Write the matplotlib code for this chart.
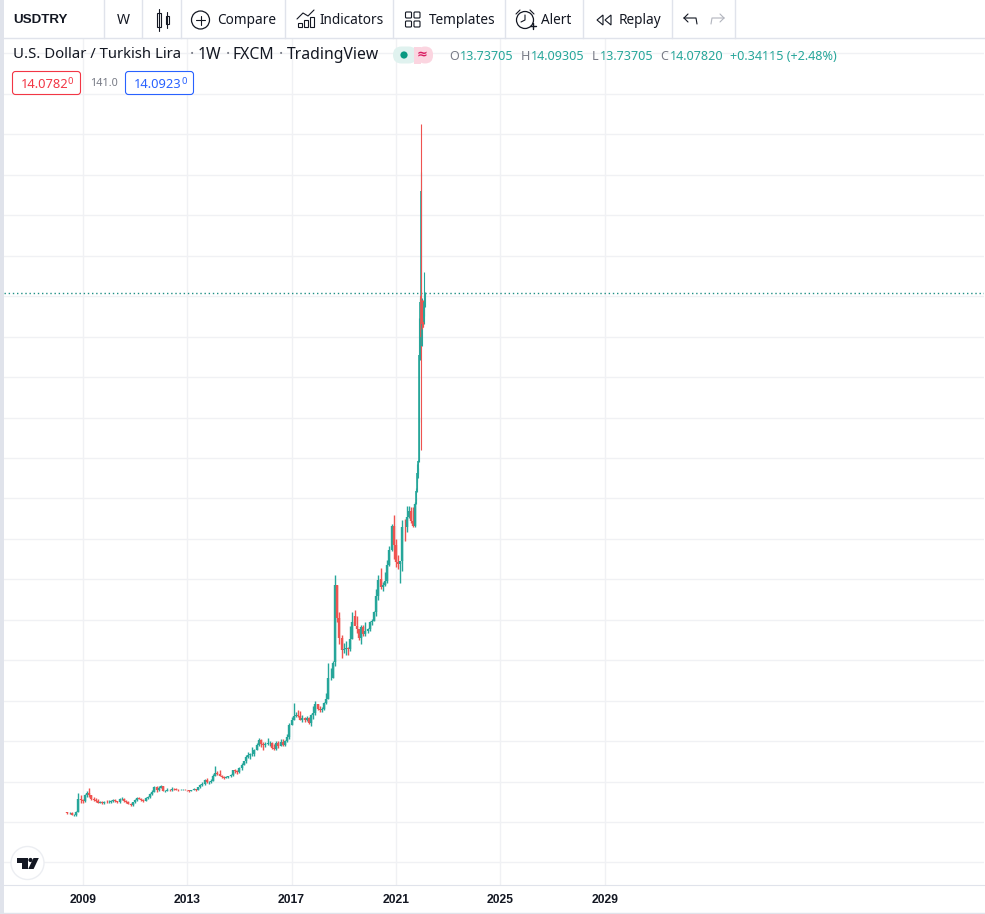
import datetime as dt
import pandas as pd
import matplotlib
matplotlib.use("Agg")
import matplotlib.pyplot as plt
import matplotlib.dates as mdates
from matplotlib.collections import LineCollection
from matplotlib.patches import FancyBboxPatch, Circle, Rectangle, Polygon

plt.rcParams['font.family'] = ['Noto Sans', 'DejaVu Sans']

# monthly bars, May 2008 - Sep 2021
m_open = [1.24,1.22,1.23,1.17,1.17,1.26,1.56,1.55,
 1.52,1.67,1.73,1.66,1.58,1.55,1.53,1.48,1.49,1.48,1.50,1.49,
 1.50,1.51,1.54,1.51,1.49,1.57,1.58,1.51,1.50,1.45,1.42,1.50,
 1.54,1.60,1.58,1.55,1.52,1.60,1.62,1.69,1.75,1.86,1.78,1.85,
 1.89,1.77,1.77,1.80,1.78,1.82,1.81,1.80,1.79,1.80,1.80,1.79,
 1.78,1.77,1.78,1.81,1.80,1.86,1.91,1.93,2.04,2.00,2.00,2.02,
 2.14,2.21,2.20,2.13,2.11,2.09,2.12,2.14,2.17,2.28,2.26,2.24,
 2.33,2.42,2.50,2.60,2.66,2.67,2.68,2.78,2.90,3.03,2.92,2.91,
 2.92,2.96,2.96,2.83,2.81,2.96,2.89,2.99,2.91,3.00,3.10,3.41,
 3.52,3.63,3.65,3.63,3.53,3.57,3.52,3.57,3.45,3.65,3.69,3.92,
 3.79,3.77,3.80,3.95,4.05,4.57,4.57,4.95,6.85,6.05,5.55,5.25,
 5.29,5.31,5.27,5.53,6.10,5.84,5.77,5.55,5.82,5.65,5.72,5.77,
 5.94,5.97,6.20,6.58,7.00,6.82,6.85,6.96,7.35,7.72,8.33,7.85,
 7.44,7.37,7.45,8.30,8.29,8.55,8.70,8.44,8.32]
m_high = [1.26,1.24,1.24,1.20,1.28,1.72,1.68,1.58,
 1.70,1.76,1.83,1.67,1.62,1.60,1.56,1.53,1.52,1.53,1.54,1.54,
 1.54,1.56,1.57,1.52,1.60,1.62,1.59,1.54,1.52,1.47,1.50,1.56,
 1.62,1.62,1.60,1.57,1.62,1.65,1.72,1.80,1.88,1.90,1.88,1.92,
 1.90,1.80,1.83,1.81,1.86,1.84,1.83,1.82,1.82,1.81,1.82,1.80,
 1.79,1.80,1.84,1.81,1.87,1.95,1.98,2.07,2.09,2.02,2.06,2.18,
 2.39,2.25,2.28,2.17,2.13,2.15,2.15,2.19,2.29,2.30,2.28,2.35,
 2.45,2.52,2.65,2.74,2.70,2.85,2.80,2.95,3.07,3.05,2.98,2.99,
 3.07,3.00,2.98,2.92,3.01,3.00,3.06,3.06,3.03,3.17,3.44,3.60,
 3.94,3.73,3.76,3.74,3.64,3.60,3.63,3.60,3.67,3.87,4.00,3.93,
 3.88,3.84,3.97,4.20,4.92,4.80,4.97,7.10,6.85,6.20,5.62,5.43,
 5.47,5.32,5.85,6.20,6.25,6.10,5.78,5.86,5.86,5.95,5.80,5.98,
 6.02,6.21,6.75,7.10,7.27,6.93,7.17,7.47,7.83,8.38,8.58,8.00,
 7.60,7.45,8.47,8.50,8.82,8.82,8.80,8.78,8.90]
m_low = [1.21,1.20,1.17,1.15,1.16,1.25,1.48,1.47,
 1.50,1.62,1.63,1.55,1.52,1.50,1.47,1.46,1.45,1.44,1.46,1.47,
 1.47,1.50,1.50,1.47,1.48,1.55,1.50,1.48,1.45,1.40,1.40,1.47,
 1.53,1.57,1.53,1.49,1.51,1.58,1.60,1.67,1.74,1.74,1.76,1.83,
 1.76,1.74,1.76,1.77,1.77,1.79,1.78,1.77,1.78,1.78,1.78,1.77,
 1.75,1.76,1.78,1.77,1.78,1.84,1.89,1.91,1.97,1.95,1.97,2.01,
 2.13,2.17,2.13,2.08,2.07,2.08,2.08,2.12,2.15,2.21,2.20,2.22,
 2.28,2.41,2.47,2.59,2.57,2.64,2.63,2.77,2.87,2.85,2.78,2.85,
 2.90,2.89,2.81,2.78,2.78,2.84,2.87,2.89,2.88,2.97,3.06,3.40,
 3.52,3.60,3.60,3.52,3.47,3.48,3.49,3.42,3.38,3.55,3.65,3.77,
 3.72,3.73,3.78,3.93,4.04,4.50,4.55,4.85,5.95,5.41,5.06,5.17,
 5.14,5.13,5.22,5.53,5.90,5.67,5.50,5.40,5.60,5.60,5.68,5.72,
 5.87,5.96,6.10,6.50,6.75,6.72,6.84,6.92,7.33,7.70,7.50,7.30,
 7.25,6.92,7.20,7.95,8.17,8.51,8.40,8.30,8.30]
m_close = [1.22,1.23,1.17,1.17,1.26,1.56,1.55,1.52,
 1.67,1.73,1.66,1.58,1.55,1.53,1.48,1.49,1.48,1.50,1.49,1.50,
 1.51,1.54,1.51,1.49,1.57,1.58,1.51,1.50,1.45,1.42,1.50,1.54,
 1.60,1.58,1.55,1.52,1.60,1.62,1.69,1.75,1.86,1.78,1.85,1.89,
 1.77,1.77,1.80,1.78,1.82,1.81,1.80,1.79,1.80,1.80,1.79,1.78,
 1.77,1.78,1.81,1.80,1.86,1.91,1.93,2.04,2.00,2.00,2.02,2.14,
 2.21,2.20,2.13,2.11,2.09,2.12,2.14,2.17,2.28,2.26,2.24,2.33,
 2.42,2.50,2.60,2.66,2.67,2.68,2.78,2.90,3.03,2.92,2.91,2.92,
 2.96,2.96,2.83,2.81,2.96,2.89,2.99,2.91,3.00,3.10,3.41,3.52,
 3.63,3.65,3.63,3.53,3.57,3.52,3.57,3.45,3.65,3.69,3.92,3.79,
 3.77,3.80,3.95,4.05,4.57,4.57,4.92,6.85,6.05,5.55,5.25,5.29,
 5.31,5.27,5.53,5.95,5.84,5.77,5.55,5.82,5.65,5.72,5.77,5.94,
 5.97,6.20,6.58,6.98,6.82,6.85,6.96,7.35,7.72,8.33,7.85,7.44,
 7.37,7.45,8.30,8.29,8.55,8.70,8.44,8.32,8.87]

# weekly bars, Oct 2021 - Feb 2022
w_open = [8.87,8.98,9.19,9.55,9.62,9.68,9.93,10.95,12.55,13.73,13.85,14.00,12.76,13.60,13.70,13.50,13.35,13.45,13.737]
w_high = [9.02,9.25,9.55,9.85,9.75,9.95,11.00,13.45,14.00,13.95,17.06,18.25,13.95,13.90,13.90,13.60,13.75,14.60,14.093]
w_low = [8.85,8.95,9.15,9.40,9.50,9.60,9.90,10.90,12.43,13.10,13.75,10.20,12.76,13.20,13.25,13.25,13.30,13.50,13.737]
w_close = [8.98,9.19,9.55,9.62,9.68,9.93,10.95,12.55,13.73,13.85,16.60,13.00,13.35,13.30,13.55,13.35,13.74,13.85,14.078]

last_close = 14.0782
price_grid = list(range(0, 21))
year_ticks = [2009, 2013, 2017, 2021, 2025, 2029]
GREEN, RED = '#26a69a', '#ef5350'

m_dates = pd.date_range('2008-05-15', periods=len(m_open), freq='MS')
w_dates = pd.date_range('2021-10-04', periods=len(w_open), freq='7D')

W, H = 985, 914
fig = plt.figure(figsize=(W/100, H/100), dpi=100, facecolor='white')
ax = fig.add_axes([4.4/W, 1-884.5/H, 980/W, 846/H])
ax.set_ylim(-0.544, 20.37)
ax.set_xlim(dt.date(2006, 1, 1), dt.date(2043, 7, 18))
ax.set_yticks(price_grid)
ax.set_yticklabels([])
ax.set_xticks([dt.date(y, 1, 1) for y in year_ticks])
ax.xaxis.set_major_formatter(mdates.DateFormatter('%Y'))
ax.grid(True, color='#f0f1f4', lw=1)
ax.set_axisbelow(True)
ax.tick_params(length=0, pad=7)
for lab in ax.get_xticklabels():
    lab.set_fontsize(8.7); lab.set_fontweight('bold'); lab.set_color('#131722')
    lab.set_fontfamily(['Liberation Sans', 'DejaVu Sans'])
for s in ['top', 'left', 'right']:
    ax.spines[s].set_visible(False)
ax.spines['bottom'].set_color('#e0e3eb')

ax.axhline(last_close, color='#1f8f85', lw=1.0, ls=(0, (1, 2)), zorder=2)

def bars(dates, o_, h_, l_, c_, wick, body):
    segs, cols, widths = [], [], []
    for x, o, h, l, c in zip(mdates.date2num(list(dates)), o_, h_, l_, c_):
        col = GREEN if c >= o else RED
        segs.append([(x, l), (x, h)]); cols.append(col); widths.append(wick)
        segs.append([(x, min(o, c)), (x, max(o, c))]); cols.append(col); widths.append(body)
    ax.add_collection(LineCollection(segs, colors=cols, linewidths=widths, capstyle='butt', zorder=3))

bars(m_dates, m_open, m_high, m_low, m_close, 1.0, 1.7)
bars(w_dates, w_open, w_high, w_low, w_close, 0.8, 1.2)

# interface layer in pixel coordinates
ui = fig.add_axes([0, 0, 1, 1], facecolor='none')
ui.set_xlim(0, W); ui.set_ylim(H, 0); ui.axis('off')
LINE = '#e0e3eb'; INK = '#131722'
ui.add_patch(Rectangle((0, 0), W, 38, fc='white', ec='none'))
ui.add_patch(Rectangle((0, 0), 4, H, fc=LINE, ec='none'))
ui.plot([4, W], [38.2, 38.2], color=LINE, lw=1)
ui.plot([4, W], [912.5, 912.5], color=LINE, lw=1)
for x in [104, 142, 181, 285, 393, 505, 583, 672, 735]:
    ui.plot([x, x], [0, 38], color=LINE, lw=1)

def T(x, y, s, size=13, color=INK, weight='normal', ha='left', family=None):
    t = ui.text(x, y, s, fontsize=size*0.72, color=color, fontweight=weight, ha=ha, va='center')
    if family:
        t.set_fontfamily(family)

T(13, 20, 'USDTRY', 13.4, weight='bold', family=['Liberation Sans', 'DejaVu Sans'])
T(117, 20, 'W', 14)
for t, x in [('Compare', 217), ('Indicators', 320), ('Templates', 429), ('Alert', 541), ('Replay', 619)]:
    T(x, 20, t, 13.6)

# toolbar icons
def L(xs_, ys_, c=INK, lw=0.8):
    ui.plot(xs_, ys_, color=c, lw=lw, solid_capstyle='round')
ui.add_patch(Rectangle((156.5, 13), 4, 14, fc='none', ec=INK, lw=0.8)); L([158.5, 158.5], [9, 31])
ui.add_patch(Rectangle((165.5, 16), 3, 8, fc='none', ec=INK, lw=0.8)); L([167, 167], [12, 28])
ui.add_patch(Circle((200.5, 20), 9, fc='none', ec=INK, lw=0.9))
L([196, 205], [20, 20]); L([200.5, 200.5], [15.5, 24.5])
L([297, 303, 308, 314], [19, 13, 16, 10])
for x0, y0 in [(298, 23), (304, 20), (310, 17)]:
    ui.add_patch(Rectangle((x0, y0), 4, 27-y0, fc='none', ec=INK, lw=0.8))
for x0 in (405.5, 414):
    for y0 in (12, 21):
        ui.add_patch(FancyBboxPatch((x0+1, y0+1), 4, 4, boxstyle='round,pad=1', fc='none', ec=INK, lw=0.8))
ui.add_patch(Circle((525, 20), 8.5, fc='none', ec=INK, lw=0.9))
L([525, 525, 521], [15, 20, 22]); L([516, 520], [14, 10]); L([534, 530], [14, 10])
L([530, 535.5], [26, 26], lw=1); L([533, 533], [23, 29], lw=1)
ui.add_patch(Polygon([(597, 20), (603, 15), (603, 25)], fc='none', ec=INK, lw=0.8))
ui.add_patch(Polygon([(605, 20), (611, 15), (611, 25)], fc='none', ec=INK, lw=0.8))
L([684, 696, 697], [18, 18, 24]); L([684, 688], [18, 14]); L([684, 688], [18, 22])
L([724, 712, 711], [18, 18, 24], c='#b2b5be'); L([724, 720], [18, 14], c='#b2b5be'); L([724, 720], [18, 22], c='#b2b5be')

# legend
T(13, 55, 'U.S. Dollar / Turkish Lira', 14.9)
T(190, 55, '·', 15.7, color='#787b86'); T(198, 55, '1W', 15.7)
T(226, 55, '·', 15.7, color='#787b86'); T(233, 55, 'FXCM', 15.7)
T(279, 55, '·', 15.7, color='#787b86'); T(287, 55, 'TradingView', 15.7)
ui.add_patch(FancyBboxPatch((393, 46.5), 24, 17, boxstyle='round,pad=0,rounding_size=8.5', fc='#e0f2ef', ec='none'))
ui.add_patch(FancyBboxPatch((417, 46.5), 16, 17, boxstyle='round,pad=0,rounding_size=8', fc='#fbd5e0', ec='none'))
ui.add_patch(Rectangle((413.5, 46.5), 7, 17, fc='#fbd5e0', ec='none'))
ui.add_patch(Circle((404, 55), 3.6, fc='#089981', ec='none'))
T(422.5, 55, '≈', 13, color='#d81b60', weight='bold', ha='center', family=['DejaVu Sans'])
GR = '#787b86'; TL = '#26a69a'
for lab, xl, val, xv in [('O', 449, '13.73705', 460), ('H', 520.5, '14.09305', 531), ('L', 591.5, '13.73705', 600), ('C', 660, '14.07820', 670)]:
    T(xl, 57, lab, 12.6, color=GR); T(xv, 57, val, 12.6, color=TL)
T(729.5, 57, '+0.34115 (+2.48%)', 12.6, color=TL)

ui.add_patch(FancyBboxPatch((12.5, 71.5), 68, 23, boxstyle='round,pad=0,rounding_size=3', fc='white', ec='#f23645', lw=0.8))
T(21, 84, '14.0782', 12.9, color='#f23645'); T(68, 82, '0', 9.5, color='#f23645')
T(90, 83, '141.0', 10.8, color=GR)
ui.add_patch(FancyBboxPatch((125.5, 71.5), 68, 23, boxstyle='round,pad=0,rounding_size=3', fc='white', ec='#2962ff', lw=0.8))
T(134, 84, '14.0923', 12.9, color='#2962ff'); T(181, 82, '0', 9.5, color='#2962ff')

# logo
ui.add_patch(Circle((27.5, 863), 16.5, fc='white', ec='#eceef2', lw=1))
ui.add_patch(Polygon([(17, 858), (27.5, 858), (27.5, 869), (22, 869), (22, 862.5), (17, 862.5)], fc=INK, ec='none'))
ui.add_patch(Circle((30.5, 860), 2.1, fc=INK, ec='none'))
ui.add_patch(Polygon([(33.5, 858), (38.8, 858), (33.6, 869), (28.2, 869)], fc=INK, ec='none'))

fig.savefig('out.png', dpi=100, facecolor='white')
